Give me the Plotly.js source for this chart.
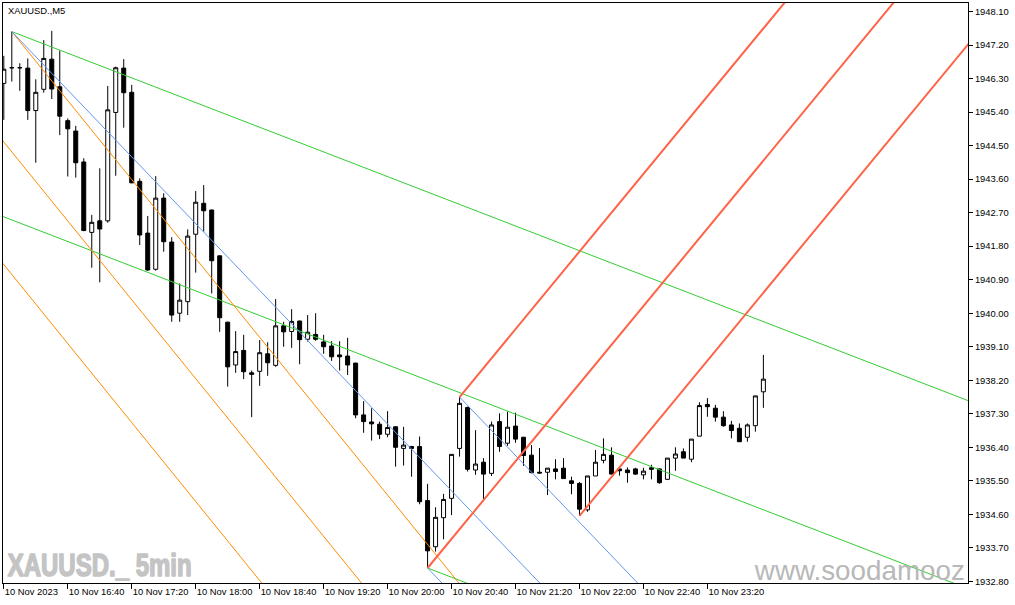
<!DOCTYPE html>
<html>
<head>
<meta charset="utf-8">
<script src="https://cdn.plot.ly/plotly-3.0.1.min.js"></script>
<style>
  html, body { margin: 0; padding: 0; background: #fff; }
  #chart { width: 1015px; height: 605px; }
</style>
</head>
<body>
<div id="chart"></div>
<script>
// ---- XAUUSD., M5 candles (bar 0 = 10 Nov 2023 16:00) ----
const opens  = [1946.17,1946.59,1946.59,1946.58,1945.44,1946.01,1946.82,1946.08,1945.17,1944.89,
                1944.06,1942.17,1942.48,1942.48,1945.39,1946.58,1945.93,1943.54,1942.15,1941.18,
                1943.09,1941.91,1940.00,1940.31,1942.12,1942.95,1942.77,1941.54,1939.76,1938.61,
                1939.00,1938.40,1938.44,1938.91,1938.60,1939.66,1939.51,1939.79,1939.30,1939.43,
                1939.23,1939.12,1938.88,1938.85,1938.66,1937.27,1937.08,1937.02,1936.75,1936.95,
                1936.37,1936.42,1936.42,1934.97,1933.73,1934.51,1935.03,1936.37,1937.47,1935.79,
                1936.00,1935.70,1937.09,1936.51,1936.97,1936.67,1936.19,1935.73,1935.73,1935.82,
                1935.84,1935.50,1935.43,1934.72,1935.63,1936.05,1936.19,1935.82,1935.79,1935.82,
                1935.66,1935.85,1935.82,1935.54,1936.11,1936.28,1936.08,1936.70,1937.55,1937.45,
                1937.21,1937.00,1936.91,1936.67,1936.98,1937.89];
const highs  = [1946.91,1947.56,1946.71,1946.84,1946.28,1947.33,1947.58,1947.05,1945.23,1945.03,
                1944.16,1942.64,1943.89,1946.10,1946.62,1946.82,1946.13,1943.62,1942.61,1943.68,
                1943.22,1942.04,1940.80,1942.25,1943.28,1943.44,1942.78,1941.55,1939.77,1939.52,
                1939.42,1938.46,1939.28,1939.22,1940.38,1939.77,1940.11,1939.80,1939.95,1940.00,
                1939.42,1939.25,1939.25,1939.34,1938.67,1937.64,1937.45,1937.09,1937.37,1936.97,
                1936.95,1936.44,1936.69,1935.42,1934.79,1935.15,1936.22,1937.75,1937.49,1936.86,
                1936.11,1937.09,1937.31,1937.36,1937.33,1936.68,1936.46,1936.38,1935.84,1936.08,
                1936.11,1935.61,1935.47,1935.63,1936.33,1936.64,1936.40,1935.83,1935.86,1935.85,
                1935.85,1935.93,1935.83,1936.11,1936.40,1936.37,1936.62,1937.61,1937.72,1937.54,
                1937.37,1937.11,1937.04,1937.04,1937.78,1938.88];
const lows   = [1945.19,1946.22,1945.97,1945.19,1944.04,1945.92,1945.75,1944.78,1943.67,1943.64,
                1942.20,1941.22,1940.83,1942.43,1943.69,1944.98,1943.49,1941.83,1941.14,1941.14,
                1941.65,1939.77,1939.77,1939.95,1941.09,1942.19,1940.53,1939.50,1938.03,1938.40,
                1938.23,1937.21,1938.05,1938.32,1938.56,1939.10,1939.07,1938.63,1939.24,1939.26,
                1938.91,1938.72,1938.46,1938.34,1937.18,1936.79,1936.58,1936.62,1936.67,1935.88,
                1935.91,1935.61,1934.87,1933.16,1933.60,1933.93,1934.58,1936.15,1935.75,1935.66,
                1935.00,1935.63,1936.28,1936.44,1936.52,1935.90,1935.70,1935.70,1935.12,1935.54,
                1935.55,1935.14,1934.56,1934.67,1935.63,1935.97,1935.68,1935.64,1935.45,1935.66,
                1935.54,1935.54,1935.42,1935.52,1935.77,1936.11,1936.00,1936.70,1937.22,1937.09,
                1936.95,1936.64,1936.55,1936.55,1936.82,1937.46];
const closes = [1946.55,1946.59,1946.59,1945.44,1945.93,1946.84,1946.02,1945.29,1944.95,1944.04,
                1942.22,1942.44,1942.26,1945.46,1946.59,1945.92,1943.50,1942.10,1941.16,1943.09,
                1941.92,1939.95,1940.35,1942.07,1942.98,1942.75,1941.41,1939.88,1938.56,1938.97,
                1938.43,1938.36,1938.94,1938.67,1939.66,1939.50,1939.78,1939.29,1939.49,1939.30,
                1939.10,1938.83,1938.83,1938.61,1937.27,1937.09,1937.03,1936.75,1936.93,1936.40,
                1936.46,1936.37,1934.94,1933.62,1934.52,1935.00,1936.21,1937.58,1935.81,1935.95,
                1935.68,1937.00,1936.42,1936.94,1936.62,1936.18,1935.72,1935.71,1935.84,1935.75,
                1935.56,1935.43,1934.74,1935.63,1936.00,1936.21,1935.68,1935.77,1935.72,1935.68,
                1935.76,1935.81,1935.45,1936.11,1936.22,1936.11,1936.62,1937.52,1937.49,1937.21,
                1936.98,1936.85,1936.55,1937.00,1937.78,1938.23];

// ---- time axis labels (bar index -> label) ----
const tickIdx  = [0, 8, 16, 24, 32, 40, 48, 56, 64, 72, 80, 88];
const tickText = ['10 Nov 2023','10 Nov 16:40','10 Nov 17:20','10 Nov 18:00','10 Nov 18:40','10 Nov 19:20',
                  '10 Nov 20:00','10 Nov 20:40','10 Nov 21:20','10 Nov 22:00','10 Nov 22:40','10 Nov 23:20'];

// ---- drawn objects (bar index, price) ----
// Andrews pitchfork (blue): handle, upper point, lower point
const blueForkX = [1, 57, 53];
const blueForkY = [1947.56, 1937.75, 1933.16];
// Andrews pitchfork (red): handle, upper point, lower point
const redForkX = [53, 57, 72];
const redForkY = [1933.16, 1937.75, 1934.56];
// Green channel lines: start / end
const greenTopX = [1, 121],   greenTopY = [1947.56, 1937.62];
const greenMidX = [-1, 121],  greenMidY = [1942.67, 1932.57];
const greenLowX = [53, 121],  greenLowY = [1933.16, 1927.53];
// Orange channel lines: start / end
const orangeTopX = [1, 60],   orangeTopY = [1947.56, 1931.94];
const orangeMidX = [-1, 55],  orangeMidY = [1944.86, 1930.04];
const orangeLowX = [-1, 45],  orangeLowY = [1941.57, 1929.38];

const xs = opens.map((_, i) => i);
const X_END = 125;

function forkLines(fx, fy) {
  const mx = (fx[1] + fx[2]) / 2, my = (fy[1] + fy[2]) / 2;
  const slope = (my - fy[0]) / (mx - fx[0]);
  const seg = (x0, y0) => ({x: [x0, X_END], y: [y0, y0 + slope * (X_END - x0)]});
  return [seg(fx[0], fy[0]), seg(fx[1], fy[1]), seg(fx[2], fy[2])];
}

const traces = [];
traces.push({
  type: 'candlestick', x: xs, open: opens, high: highs, low: lows, close: closes,
  increasing: {line: {color: '#000000', width: 1}, fillcolor: '#ffffff'},
  decreasing: {line: {color: '#000000', width: 1}, fillcolor: '#000000'},
  whiskerwidth: 0, hoverinfo: 'skip', showlegend: false
});
function addLine(x, y, color, width) {
  traces.push({type: 'scatter', mode: 'lines', x: x, y: y,
    line: {color: color, width: width}, hoverinfo: 'skip', showlegend: false});
}
addLine(greenTopX, greenTopY, '#32CD32', 1);
addLine(greenMidX, greenMidY, '#32CD32', 1);
addLine(greenLowX, greenLowY, '#32CD32', 1);
addLine(orangeTopX, orangeTopY, '#FF8C00', 1);
addLine(orangeMidX, orangeMidY, '#FF8C00', 1);
addLine(orangeLowX, orangeLowY, '#FF8C00', 1);
forkLines(blueForkX, blueForkY).forEach(s => addLine(s.x, s.y, '#6495ED', 1));
forkLines(redForkX, redForkY).forEach(s => addLine(s.x, s.y, '#FF6347', 2));

const FONT = 'Liberation Sans, Arial, sans-serif';
const layout = {
  width: 1015, height: 605,
  margin: {l: 3, r: 47, t: 3, b: 22, pad: 0},
  paper_bgcolor: '#ffffff', plot_bgcolor: '#ffffff',
  showlegend: false,
  boxgap: 0.5, boxgroupgap: 0,
  font: {family: FONT, size: 9.4, color: '#000000'},
  xaxis: {
    range: [-0.1, 120.59], autorange: false,
    tickmode: 'array', tickvals: tickIdx, ticktext: tickText,
    tickangle: 0,
    ticks: 'outside', ticklen: 5, tickwidth: 1, tickcolor: '#000000',
    ticklabelposition: 'outside right',
    tickfont: {family: FONT, size: 9.4, color: '#000000'},
    showline: true, linecolor: '#000000', linewidth: 1, mirror: true,
    showgrid: false, zeroline: false, rangeslider: {visible: false}, fixedrange: true
  },
  yaxis: {
    side: 'right', range: [1932.757, 1948.328], autorange: false,
    tickmode: 'linear', tick0: 1932.8, dtick: 0.9, tickformat: '.2f',
    ticks: 'outside', ticklen: 4, tickwidth: 1, tickcolor: '#000000',
    tickfont: {family: FONT, size: 9.4, color: '#000000'},
    showline: true, linecolor: '#000000', linewidth: 1, mirror: true,
    showgrid: false, zeroline: false, fixedrange: true
  },
  annotations: [
    {xref: 'paper', yref: 'paper', x: 0.0031, y: 0.9874, xanchor: 'left', yanchor: 'middle',
     text: 'XAUUSD.,M5', showarrow: false, font: {family: FONT, size: 9.4, color: '#000000'}},
    {xref: 'paper', yref: 'paper', x: 0.1, y: 0.031, xanchor: 'center', yanchor: 'middle',
     text: 'XAUUSD._ 5min', showarrow: false,
     font: {family: FONT, size: 32, color: '#C4C4C4', weight: 'bold'}},
    {xref: 'paper', yref: 'paper', x: 0.888, y: 0.0219, xanchor: 'center', yanchor: 'middle',
     text: 'www.soodamooz', showarrow: false,
     font: {family: FONT, size: 28, color: '#B8B8B8'}}
  ]
};

Plotly.newPlot('chart', traces, layout, {staticPlot: true, displayModeBar: false}).then(() => {
  const fit = {'XAUUSD._ 5min': [184, 1.6], 'www.soodamooz': [210, 0]};
  document.querySelectorAll('.annotation-text').forEach(t => {
    const f = fit[t.textContent];
    if (f) {
      t.setAttribute('textLength', f[0]);
      t.setAttribute('lengthAdjust', 'spacingAndGlyphs');
      if (f[1] > 0) {
        t.style.stroke = '#C4C4C4';
        t.style.strokeWidth = f[1] + 'px';
        t.style.strokeLinejoin = 'round';
      }
    }
  });
});
</script>
</body>
</html>
